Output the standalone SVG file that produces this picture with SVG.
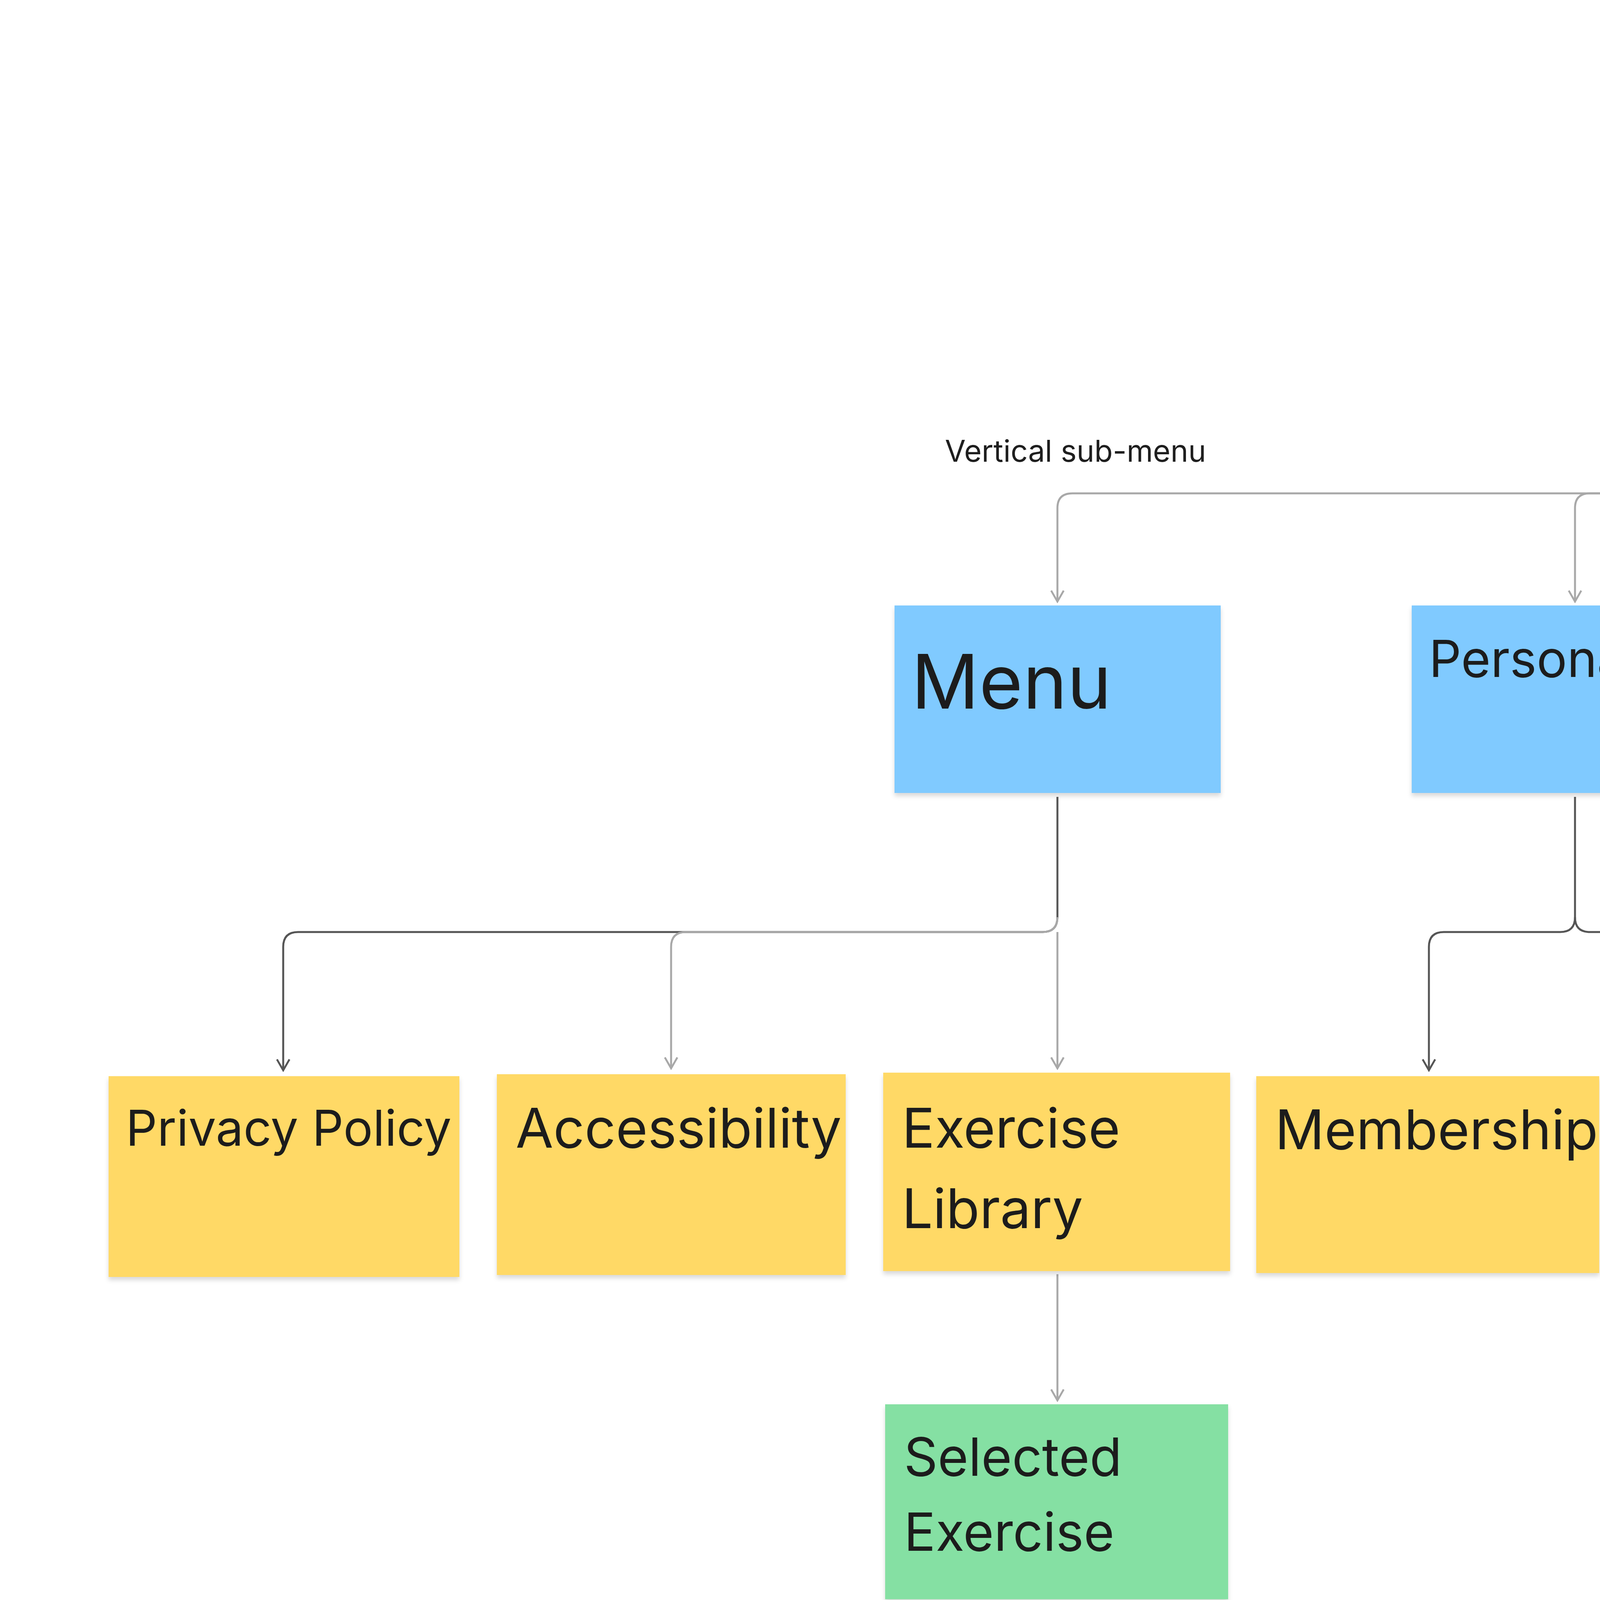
<svg xmlns="http://www.w3.org/2000/svg" width="7486" height="4376" viewBox="0 0 7486 4376">
<style>
text{font-family:Inter,"Noto Sans","Liberation Sans",sans-serif;fill:#1e1e1e}
.n{filter:url(#sh)}
.c{fill:none;stroke:#a8a8a8;stroke-width:5}
.d{fill:none;stroke:#555;stroke-width:5}
</style>
<defs>
<filter id="sh" x="-5%" y="-5%" width="110%" height="115%"><feDropShadow dx="0" dy="8" stdDeviation="6" flood-color="#000" flood-opacity="0.15"/></filter>
<marker id="a" viewBox="0 0 10 10" refX="9" refY="5" markerWidth="40" markerHeight="40" orient="auto" markerUnits="userSpaceOnUse"><path d="M2 1 L9 5 L2 9" fill="none" stroke="#a8a8a8" stroke-width="1.2"/></marker>
<marker id="b" viewBox="0 0 10 10" refX="9" refY="5" markerWidth="40" markerHeight="40" orient="auto" markerUnits="userSpaceOnUse"><path d="M2 1 L9 5 L2 9" fill="none" stroke="#555" stroke-width="1.2"/></marker>
</defs>
<rect width="7486" height="4376" fill="#fff"/>
<g id="connectors">
<path class="c" d="M4608 930 V1225 Q4608 1263 4570 1263 H2745 Q2707 1263 2707 1301 V1540" marker-end="url(#a)"/>
<path class="c" d="M4608 1225 Q4608 1263 4570 1263 H4070 Q4032 1263 4032 1301 V1540" marker-end="url(#a)"/>
<path class="c" d="M4608 1225 Q4608 1263 4646 1263 H5808 Q5846 1263 5846 1301 V1540" marker-end="url(#a)"/>
<path class="c" d="M4608 1225 Q4608 1263 4646 1263 H6792 Q6830 1263 6830 1301 V1540" marker-end="url(#a)"/>
<path class="d" d="M2707 2040 V2348 Q2707 2386 2669 2386 H763 Q725 2386 725 2424 V2740" marker-end="url(#b)"/>
<path class="c" d="M2707 2348 Q2707 2386 2669 2386 H1756 Q1718 2386 1718 2424 V2735" marker-end="url(#a)"/>
<path class="c" d="M2707 2386 V2735" marker-end="url(#a)"/>
<path class="d" d="M4032 2040 V2348 Q4032 2386 3994 2386 H3696 Q3658 2386 3658 2424 V2740" marker-end="url(#b)"/>
<path class="d" d="M4032 2348 Q4032 2386 4070 2386 H4580 Q4618 2386 4618 2424 V2730" marker-end="url(#b)"/>
<path class="c" d="M5846 2040 V2352 Q5846 2390 5808 2390 H5630 Q5592 2390 5592 2428 V2735" marker-end="url(#a)"/>
<path class="c" d="M5846 2352 Q5846 2390 5884 2390 H6562 Q6600 2390 6600 2428 V2740" marker-end="url(#a)"/>
<path class="c" d="M2707 3262 V3585" marker-end="url(#a)"/>
<path class="c" d="M6600 3272 V3618" marker-end="url(#a)"/>
<text x="2419" y="1182" font-size="77">Vertical sub-menu</text>
<text x="4651" y="1182" font-size="77">menu</text>
</g>
<g id="home" class="n"><rect x="4190" y="264" width="836" height="653" fill="#d8b9ff"/><text x="4238" y="518" font-size="192">Home</text><text x="4238" y="806" font-size="192">page</text></g>
<g id="menu" class="n"><rect x="2290" y="1550" width="835" height="480" fill="#80caff"/><text x="2333" y="1814" font-size="192">Menu</text></g>
<g id="personal" class="n"><rect x="3614" y="1550" width="836" height="480" fill="#80caff"/><text x="3658" y="1733" font-size="130">Personal</text></g>
<g id="training" class="n"><rect x="5429" y="1550" width="835" height="480" fill="#80caff"/><text x="5477" y="1733" font-size="130">Training</text></g>
<g id="homepage2" class="n"><rect x="6413" y="1550" width="835" height="480" fill="#80caff"/><text x="6456" y="1733" font-size="130">Home page</text></g>
<g id="privacy" class="n"><rect x="278" y="2755" width="898" height="514" fill="#ffd966"/><text x="322" y="2933" font-size="126">Privacy Policy</text></g>
<g id="access" class="n"><rect x="1272" y="2750" width="893" height="514" fill="#ffd966"/><text x="1320" y="2938" font-size="140">Accessibility</text></g>
<g id="exlib" class="n"><rect x="2261" y="2746" width="888" height="508" fill="#ffd966"/><text x="2309" y="2938" font-size="140">Exercise</text><text x="2309" y="3144" font-size="140">Library</text></g>
<g id="member" class="n"><rect x="3216" y="2755" width="878" height="504" fill="#ffd966"/><text x="3264" y="2942" font-size="140">Membership</text></g>
<g id="workout" class="n"><rect x="4200" y="2741" width="835" height="518" fill="#ffd966"/><text x="4243" y="2938" font-size="150">Workout</text><text x="4243" y="3158" font-size="150">Plan</text></g>
<g id="mysched" class="n"><rect x="5131" y="2746" width="917" height="523" fill="#ffd966"/><text x="5179" y="2942" font-size="150">My</text><text x="5179" y="3154" font-size="140">Schedule</text></g>
<g id="lesson" class="n"><rect x="6154" y="2750" width="892" height="514" fill="#ffd966"/><text x="6197" y="2899" font-size="96">Schedule a</text><text x="6197" y="3048" font-size="96">Lesson</text></g>
<g id="selected" class="n"><rect x="2266" y="3595" width="878" height="499" fill="#85e0a3"/><text x="2314" y="3778" font-size="135">Selected</text><text x="2314" y="3970" font-size="135">Exercise</text></g>
<g id="coach" class="n"><rect x="6182" y="3629" width="836" height="475" fill="#85e0a3"/><text x="6226" y="3811" font-size="135">Coach</text><text x="6226" y="4003" font-size="135">Library</text></g>
</svg>
